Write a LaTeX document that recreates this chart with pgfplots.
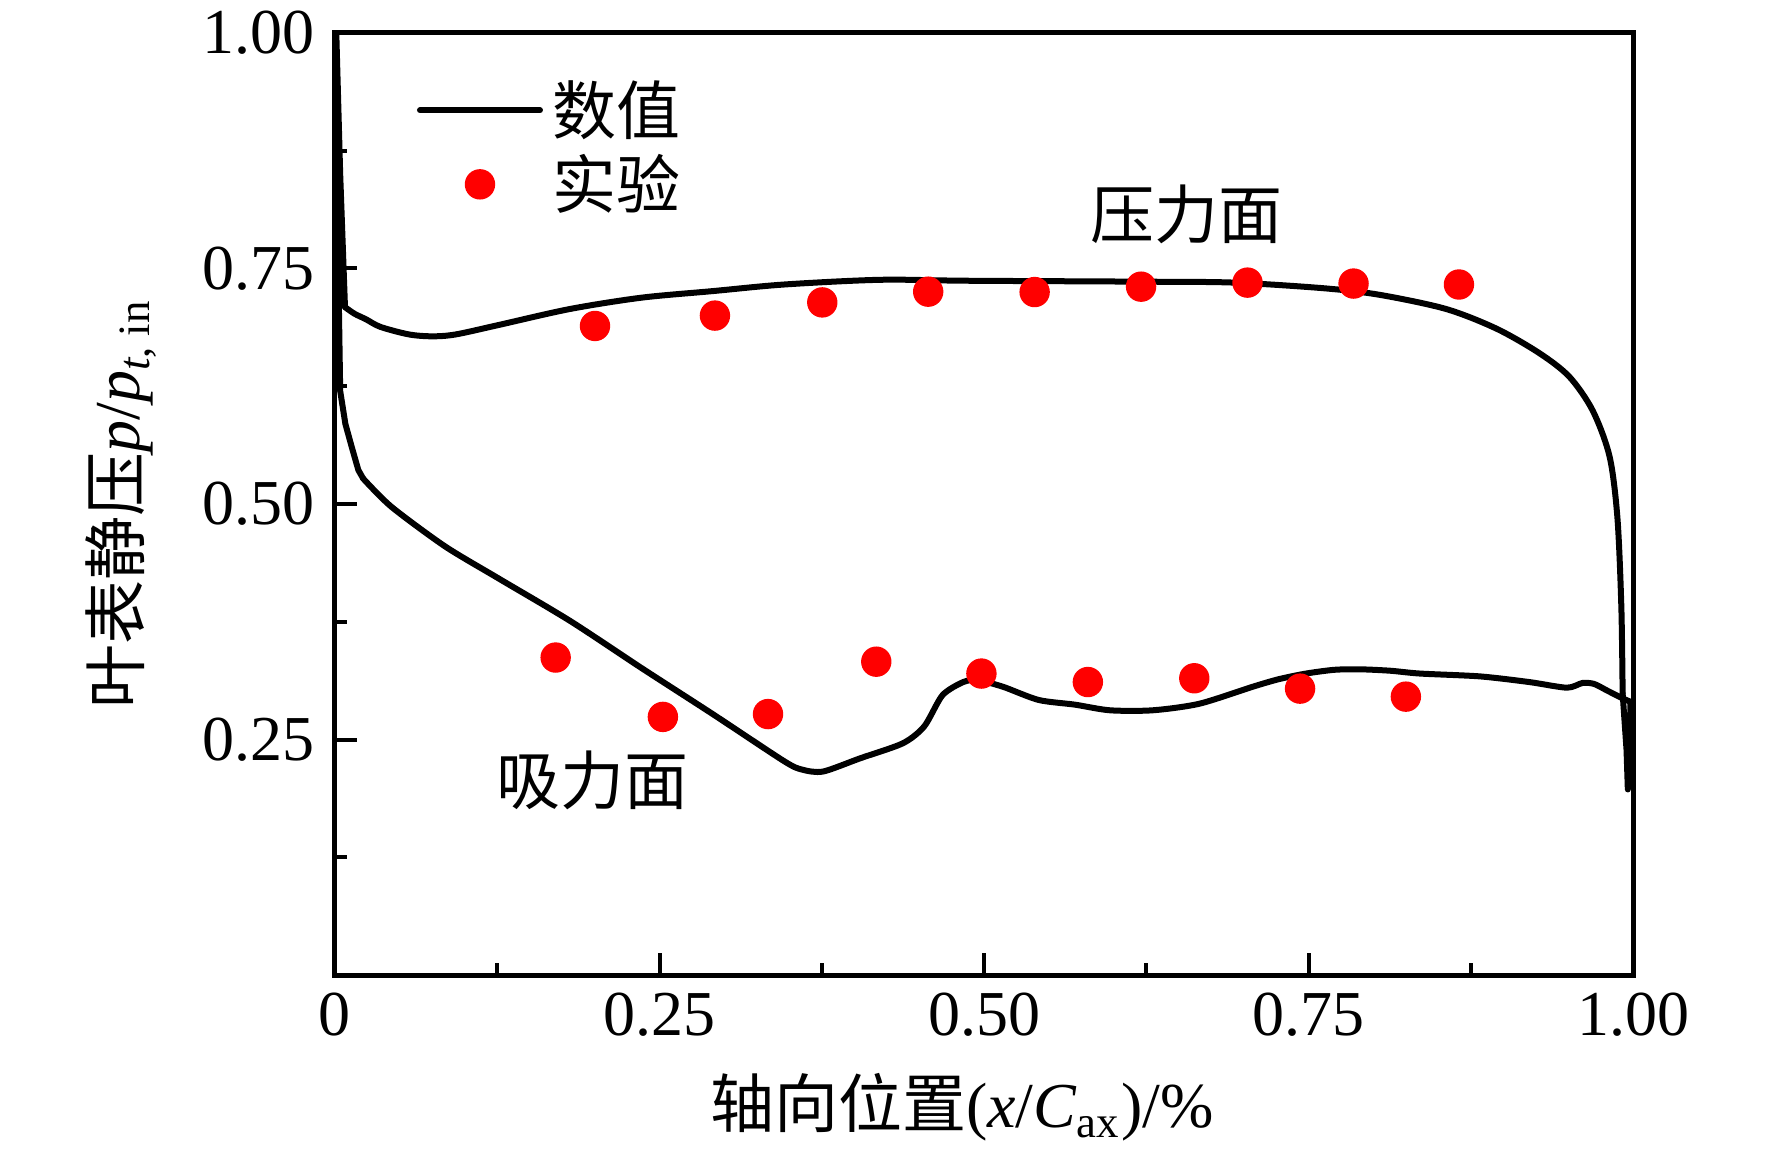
\documentclass[border=0pt]{standalone}
\usepackage{fontspec}
\setmainfont{Liberation Serif}
\newfontfamily\cjk{Noto Sans CJK SC}
\usepackage{pgfplots}
\pgfplotsset{compat=1.18}
\newcommand\fs{\fontsize{16}{19}\selectfont}
\begin{document}
\begin{tikzpicture}
\useasboundingbox (-83.75pt,-47.75pt) rectangle (359.25pt,243.75pt);
\begin{axis}[
  scale only axis, width=324.5pt, height=235.5pt,
  xmin=0, xmax=1, ymin=0, ymax=1,
  axis line style={line width=1.25pt},
  xtick={0,0.25,0.5,0.75,1}, xticklabels={0,0.25,0.50,0.75,1.00},
  ytick={0.25,0.5,0.75,1}, yticklabels={0.25,0.50,0.75,1.00},
  minor xtick={0.125,0.375,0.625,0.875},
  minor ytick={0.125,0.375,0.625,0.875},
  tick align=inside, xtick pos=bottom, ytick pos=left,
  major tick length=5.4pt, minor tick length=3.1pt,
  every tick/.style={black, line width=1pt},
  /pgf/number format/assume math mode=true,
  tick label style={font=\fs},
  yticklabel style={xshift=-1.5pt},
  xticklabel style={yshift=-1pt},
  xlabel={{\cjk 轴向位置}(\textit{x}/\textit{C}\textsubscript{ax})/\%},
  xlabel style={font=\fs, at={(axis description cs:0.483,-0.14)}, anchor=center},
  ylabel={{\cjk 叶表静压}\textit{p}/\textit{p}\textsubscript{\textit{t}, in}},
  ylabel style={font=\fs, at={(axis description cs:-0.165,0.5)}, anchor=center},
  legend style={draw=none, fill=none, at={(axis description cs:0.0533,0.959)}, anchor=north west,
    font={\fs\cjk}, row sep=3.5pt, nodes={inner xsep=2.5pt, inner ysep=0pt}},
  legend cell align=left,
  legend image code/.code={\draw[mark repeat=2,mark phase=2,#1] plot coordinates {(0pt,0pt) (15pt,0pt) (30pt,0pt)};},
  curve/.style={black, line width=1.5pt, line join=round, line cap=round},
]
% pressure side
\addplot[curve, smooth, tension=0.5] coordinates {
(0.0077,0.709) (0.015,0.702) (0.024,0.696) (0.035,0.688)
(0.057,0.680) (0.075,0.678) (0.093,0.680) (0.126,0.690) (0.181,0.707) (0.236,0.719)
(0.291,0.726) (0.346,0.733) (0.420,0.738) (0.487,0.737) (0.6246,0.736) (0.693,0.735)
(0.762,0.729) (0.805,0.722) (0.856,0.707) (0.895,0.686) (0.928,0.660) (0.951,0.635)
(0.969,0.599) (0.982,0.550) (0.988,0.485) (0.991,0.391) (0.992,0.299)
};
\addlegendentry{数值}
% suction side
\addplot[curve, smooth, tension=0.45, forget plot] coordinates {
(0.998,0.29) (0.990,0.295) (0.980,0.302) (0.970,0.309) (0.961,0.310)
(0.949,0.305) (0.92,0.311) (0.882,0.317) (0.836,0.320) (0.813,0.323) (0.790,0.3245)
(0.77,0.324) (0.748,0.320) (0.727,0.314) (0.707,0.306) (0.666,0.288) (0.630,0.281)
(0.597,0.281) (0.570,0.287) (0.542,0.292) (0.5146,0.306) (0.495,0.313) (0.484,0.311)
(0.468,0.297) (0.454,0.264) (0.4375,0.246) (0.4045,0.230) (0.376,0.216) (0.360,0.218)
(0.346,0.227) (0.291,0.277) (0.236,0.326) (0.181,0.376) (0.126,0.421) (0.0848,0.455)
(0.0435,0.497) (0.0217,0.527)
};
% leading edge
\addplot[curve, forget plot] coordinates {
(0.0217,0.527) (0.018,0.536) (0.013,0.56) (0.008,0.585) (0.004,0.62)
(0.002,0.80) (0.001,1.0) (0.004,0.85) (0.0077,0.709)
};
% trailing edge
\addplot[curve, forget plot] coordinates {
(0.992,0.299) (0.995,0.239) (0.996,0.197) (0.9975,0.25) (0.998,0.29)
};
\addplot[only marks, mark=*, mark size=3.6pt, color=red, mark options={draw=red, fill=red}] coordinates {
(0.2003,0.689) (0.2927,0.700) (0.3754,0.714) (0.457,0.7254) (0.539,0.725) (0.621,0.7307)
(0.703,0.735) (0.7847,0.734) (0.8659,0.733)
(0.170,0.337) (0.2526,0.274) (0.3336,0.277) (0.417,0.3326) (0.498,0.320) (0.580,0.311)
(0.662,0.315) (0.7435,0.304) (0.825,0.2955)
};
\addlegendentry{实验}
\node[font={\fs\cjk}] at (axis cs:0.656,0.807) {压力面};
\node[font={\fs\cjk}] at (axis cs:0.198,0.207) {吸力面};
\end{axis}
\end{tikzpicture}
\end{document}
